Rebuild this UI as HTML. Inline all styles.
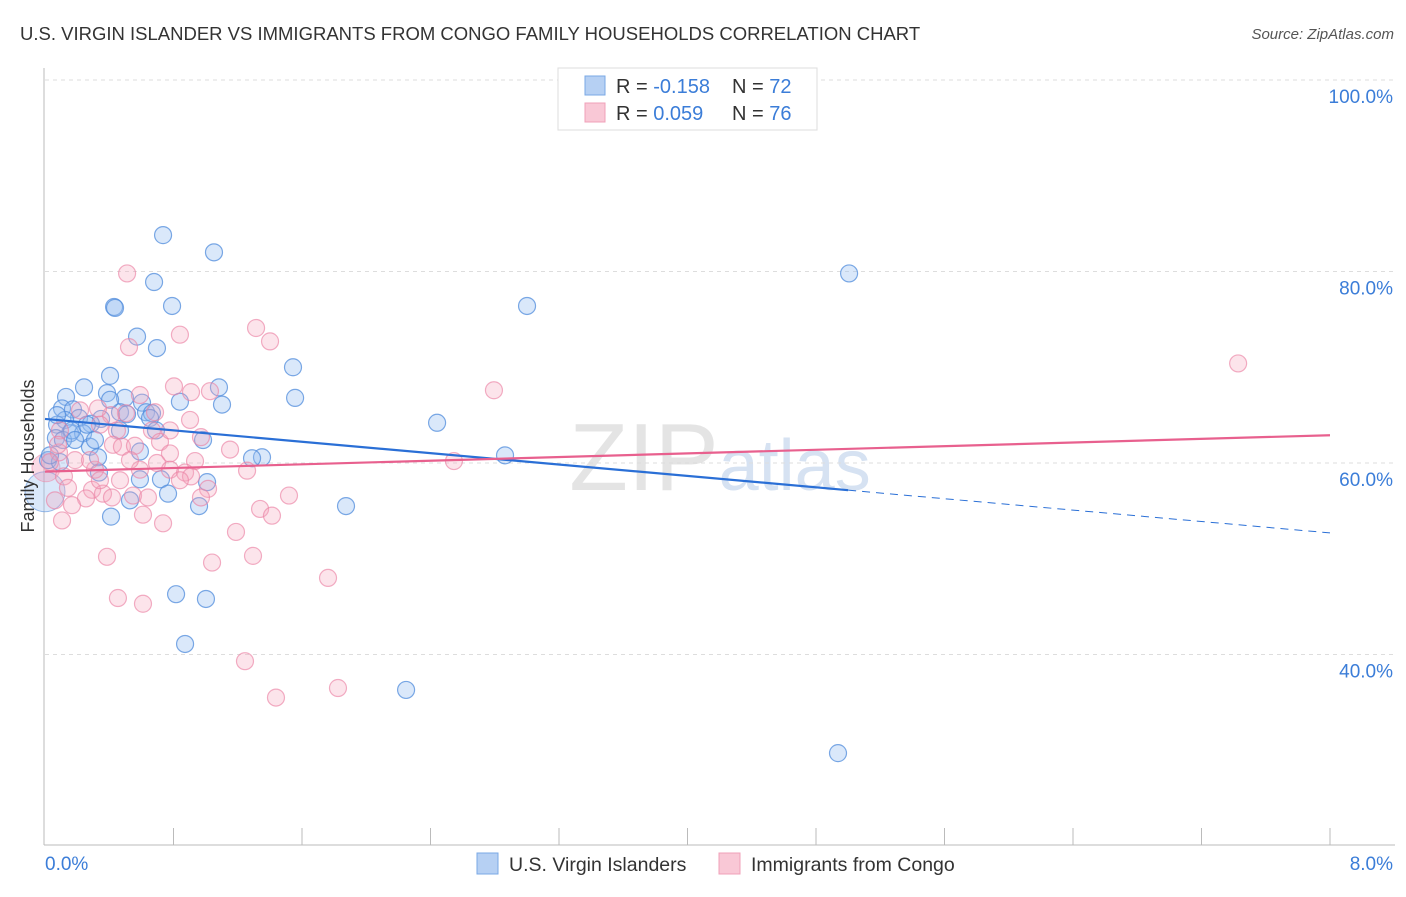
<!DOCTYPE html>
<html><head><meta charset="utf-8"><style>
body{margin:0;background:#fff;font-family:"Liberation Sans",sans-serif;}
svg text{font-family:"Liberation Sans",sans-serif;}
</style></head><body>
<svg id="chart" width="1406" height="892" viewBox="0 0 1406 892" xmlns="http://www.w3.org/2000/svg">
<text x="20" y="40" font-size="18.5" fill="#333">U.S. VIRGIN ISLANDER VS IMMIGRANTS FROM CONGO FAMILY HOUSEHOLDS CORRELATION CHART</text>
<text x="1394" y="39" font-size="15" fill="#555" font-style="italic" text-anchor="end">Source: ZipAtlas.com</text>
<text x="720" y="490" font-size="96" fill="#e4e4e4" text-anchor="middle" font-family="Liberation Serif">ZIP<tspan fill="#d6e2f2" font-family="Liberation Sans" font-size="72">atlas</tspan></text>
<g id="grid"></g>
<g id="axes"></g>
<g id="marks"></g>
<g id="trends"></g>
<text transform="translate(34,456) rotate(-90)" font-size="18" fill="#333" text-anchor="middle">Family Households</text>
<g>
<rect x="558" y="68" width="259" height="62" fill="#fff" stroke="#ddd"/>
<rect x="585" y="76" width="20" height="19" fill="#b6d0f3" stroke="#7aa8e6"/>
<rect x="585" y="103" width="20" height="19" fill="#f9c8d6" stroke="#f0a0b8"/>
<text x="616" y="93" font-size="20" fill="#333">R = <tspan fill="#3b7dd8">-0.158</tspan><tspan x="732">N = </tspan><tspan fill="#3b7dd8">72</tspan></text>
<text x="616" y="120" font-size="20" fill="#333">R = <tspan fill="#3b7dd8"> 0.059</tspan><tspan x="732">N = </tspan><tspan fill="#3b7dd8">76</tspan></text>
</g>
<g>
<rect x="477" y="853" width="21" height="21" fill="#b6d0f3" stroke="#7aa8e6"/>
<text x="509" y="871" font-size="19.5" fill="#333">U.S. Virgin Islanders</text>
<rect x="719" y="853" width="21" height="21" fill="#f9c8d6" stroke="#f0a0b8"/>
<text x="751" y="871" font-size="19.5" fill="#333">Immigrants from Congo</text>
</g>
</svg>
<script>
const blueX=[0.735,1.052,0.679,0.430,0.436,0.791,0.573,0.697,1.544,0.405,0.243,1.083,0.386,0.840,1.557,0.131,0.498,0.604,1.102,0.106,0.174,0.467,0.511,0.629,0.666,0.212,0.125,0.349,0.654,0.286,2.441,0.075,0.691,0.156,0.237,0.068,0.112,0.984,0.280,0.591,0.330,2.864,1.351,1.289,0.019,0.336,0.591,0.722,1.009,0.766,0.529,0.959,1.874,0.411,0.816,1.002,0.872,2.248,4.937,5.006,3.001,0.093,0.031,0.168,0.405,0.075,0.311,0.261,0.467,0.187];
const blueY=[83.8,82.0,78.9,76.3,76.2,76.4,73.2,72.0,70.0,69.1,67.9,67.9,67.3,66.4,66.8,66.9,66.8,66.3,66.1,65.7,65.6,65.3,65.1,65.3,65.2,64.7,64.5,64.6,64.7,64.1,64.2,64.0,63.4,63.1,63.1,62.6,62.4,62.4,61.7,61.2,60.6,60.8,60.6,60.5,60.3,59.0,58.3,58.3,58.0,56.8,56.1,55.5,55.5,54.4,46.3,45.8,41.1,36.3,29.7,79.8,76.4,60.1,60.8,63.4,66.6,65.0,62.4,64.0,63.4,62.4];
const pinkX=[0.511,0.840,1.314,1.401,0.523,2.795,0.803,0.909,1.027,7.428,0.685,0.504,0.411,0.330,0.218,0.342,0.448,0.666,0.423,0.479,0.560,0.716,0.971,0.778,0.697,0.934,0.778,2.546,0.087,0.031,0.118,0.311,0.872,0.909,1.258,1.015,0.143,0.293,0.361,0.255,0.417,0.548,0.168,0.641,0.971,1.519,1.339,1.413,0.610,0.735,1.189,0.386,1.295,1.040,1.762,0.454,0.610,1.245,1.824,1.438,0.093,0.081,0.187,0.280,0.591,0.840,0.062,0.467,0.342,1.152,0.106,0.529,0.778,0.903,0.591];
const pinkY=[79.8,73.4,74.1,72.7,72.1,67.6,68.0,67.4,67.5,70.4,65.3,65.2,65.0,65.7,65.5,64.0,63.4,63.4,61.9,61.7,61.8,62.2,62.7,61.0,60.0,60.2,59.3,60.2,61.1,60.1,58.6,59.3,59.0,58.6,59.2,57.3,57.4,57.2,56.8,56.3,56.4,56.6,55.6,56.4,56.4,56.6,55.2,54.5,54.6,53.7,52.8,50.2,50.3,49.6,48.0,45.9,45.3,39.3,36.5,35.5,63.4,61.9,60.3,60.3,59.3,58.2,56.1,58.2,58.2,61.4,54.0,60.3,63.4,64.5,67.1];
const bigBlue=[0.0,57.0];
const bigPink=[0.006,59.5];
const blueTrend=[64.6,52.7];
const blueSolidEnd=5.0;
const pinkTrend=[59.1,62.9];
const yTicks=[100,80,60,40];
const xTickCount=10;
const NS="http://www.w3.org/2000/svg";
const xs=v=>45+v/8*1285;
const ys=v=>80+(100-v)*9.575;
function mk(tag,attrs,parent){const e=document.createElementNS(NS,tag);for(const k in attrs)e.setAttribute(k,attrs[k]);parent.appendChild(e);return e;}
const grid=document.getElementById('grid'),axes=document.getElementById('axes'),marks=document.getElementById('marks'),trends=document.getElementById('trends');
yTicks.forEach(t=>{
 const l=mk('line',{x1:45,x2:1395,y1:ys(t),y2:ys(t),stroke:'#ddd','stroke-dasharray':'4,4'},grid);
 
 
 const tx=mk('text',{x:1393,y:ys(t)+23,'font-size':19,fill:'#3b7dd8','text-anchor':'end'},grid);
 tx.textContent=t.toFixed(1)+'%';
 
 
});
const ax=mk('line',{x1:44,x2:44,y1:68,y2:845,stroke:'#bbb'},axes);


const bx=mk('line',{x1:44,x2:1395,y1:845,y2:845,stroke:'#bbb'},axes);


for(let i=1;i<=xTickCount;i++){
 const x=45+i*1285/xTickCount;
 const t=mk('line',{x1:x,x2:x,y1:828,y2:845,stroke:'#bbb'},axes);
 
 
}
const xl0=mk('text',{x:45,y:870,'font-size':19,fill:'#3b7dd8'},axes);xl0.textContent='0.0%';


const xl1=mk('text',{x:1393,y:870,'font-size':19,fill:'#3b7dd8','text-anchor':'end'},axes);xl1.textContent='8.0%';


function dots(X,Y,fill,stroke,name){
 X.forEach((v,i)=>{
  const c=mk('circle',{cx:xs(v),cy:ys(Y[i]),r:8.5,fill:fill,stroke:stroke,'stroke-width':1.2},marks);
  
  
 });
}
const bb=mk('circle',{cx:xs(bigBlue[0]),cy:ys(bigBlue[1]),r:20,fill:'rgba(150,190,240,0.35)',stroke:'rgba(90,145,220,0.6)'},marks);


const bp=mk('circle',{cx:xs(bigPink[0]),cy:ys(bigPink[1]),r:14,fill:'rgba(240,150,180,0.35)',stroke:'rgba(235,140,170,0.6)'},marks);


dots(blueX,blueY,'rgba(150,190,240,0.35)','rgba(80,140,220,0.75)','blue-point');
dots(pinkX,pinkY,'rgba(245,165,190,0.3)','rgba(235,130,165,0.65)','pink-point');
const by=x=>blueTrend[0]+(blueTrend[1]-blueTrend[0])*x/8;
const t1=mk('line',{x1:xs(0),y1:ys(blueTrend[0]),x2:xs(blueSolidEnd),y2:ys(by(blueSolidEnd)),stroke:'#2a6fd6','stroke-width':2.2},trends);


const t2=mk('line',{x1:xs(blueSolidEnd),y1:ys(by(blueSolidEnd)),x2:xs(8),y2:ys(blueTrend[1]),stroke:'#2a6fd6','stroke-width':1,'stroke-dasharray':'8,6'},trends);


const t3=mk('line',{x1:xs(0),y1:ys(pinkTrend[0]),x2:xs(8),y2:ys(pinkTrend[1]),stroke:'#e8608e','stroke-width':2.2},trends);


</script>
</body></html>
